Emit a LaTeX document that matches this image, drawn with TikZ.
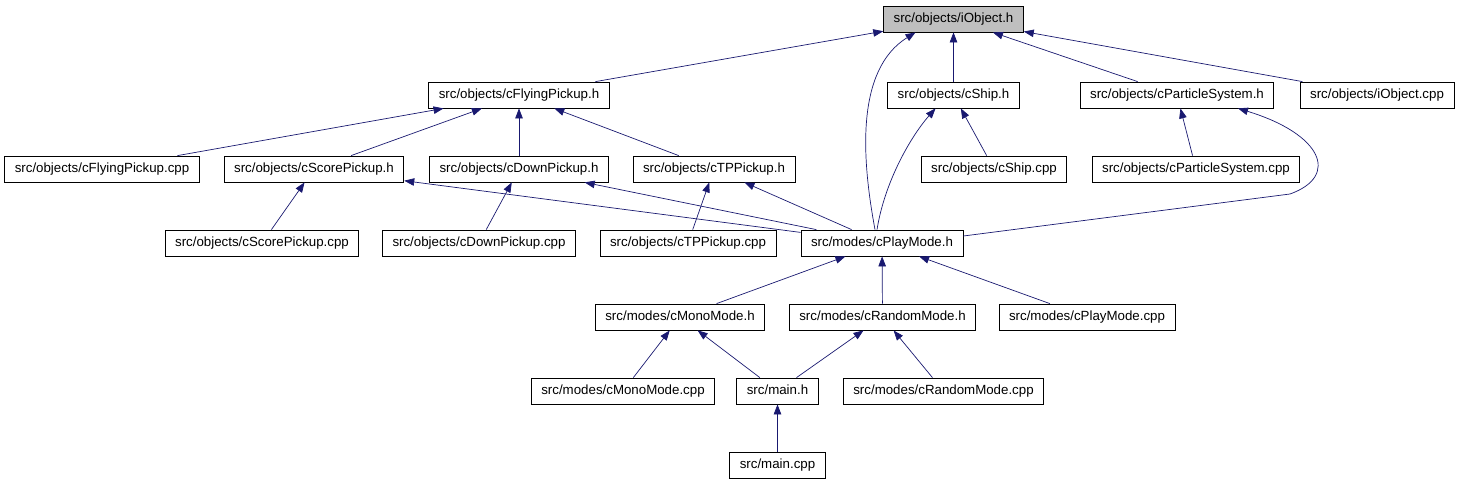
\documentclass[tikz,border=0pt]{standalone}
\usepackage{fontspec}
\setmainfont{Liberation Sans}
\usetikzlibrary{arrows.meta}
\definecolor{edgeblue}{RGB}{25,25,112}

\begin{document}
\begin{tikzpicture}[
  x=1pt, y=-1pt,
  file/.style={draw, line width=0.8pt, inner xsep=10pt, inner ysep=0pt,
               minimum height=26pt, text height=10pt, text depth=3pt,
               font=\fontsize{13.3}{16}\selectfont},
  top/.style={file, fill=gray!50},
  dep/.style={-{Triangle[length=10pt,width=7.5pt]}, edgeblue, line width=0.7pt}
]
\useasboundingbox (0,0) rectangle (1459,485);

% row 0 and 1
\node[top]  (io)    at (953.5,19) {src/objects/iObject.h};
\node[file] (fp)    at (519,95)   {src/objects/cFlyingPickup.h};
\node[file] (ship)  at (953.5,95) {src/objects/cShip.h};
\node[file] (ps)    at (1177,95)  {src/objects/cParticleSystem.h};
\node[file] (iocpp) at (1377,95)  {src/objects/iObject.cpp};

% row 2
\node[file] (fpcpp)   at (102,169)  {src/objects/cFlyingPickup.cpp};
\node[file] (sp)      at (314,169)  {src/objects/cScorePickup.h};
\node[file] (dp)      at (519,169)  {src/objects/cDownPickup.h};
\node[file] (tp)      at (714,169)  {src/objects/cTPPickup.h};
\node[file] (shipcpp) at (994,169)  {src/objects/cShip.cpp};
\node[file] (pscpp)   at (1196,169) {src/objects/cParticleSystem.cpp};

% row 3
\node[file] (spcpp) at (262,243) {src/objects/cScorePickup.cpp};
\node[file] (dpcpp) at (479,243) {src/objects/cDownPickup.cpp};
\node[file] (tpcpp) at (688,243) {src/objects/cTPPickup.cpp};
\node[file] (pm)    at (882,243) {src/modes/cPlayMode.h};

% rows 4 to 6
\node[file] (mono)    at (680,317)   {src/modes/cMonoMode.h};
\node[file] (rnd)     at (882.5,317) {src/modes/cRandomMode.h};
\node[file] (pmcpp)   at (1087,317)  {src/modes/cPlayMode.cpp};
\node[file] (monocpp) at (623,391)   {src/modes/cMonoMode.cpp};
\node[file] (mainh)   at (777.5,391) {src/main.h};
\node[file] (rndcpp)  at (943.5,391) {src/modes/cRandomMode.cpp};
\node[file] (maincpp) at (777.5,465) {src/main.cpp};

\draw[dep] (fp) -- (io); \draw[dep] (ship) -- (io); \draw[dep] (ps) -- (io); \draw[dep] (iocpp) -- (io);
\draw[dep] ([xshift=-7]pm.north) .. controls (862,160) and (855,70) .. ([xshift=-38]io.south);
\draw[dep] (fpcpp) -- (fp); \draw[dep] (sp) -- (fp); \draw[dep] (dp) -- (fp); \draw[dep] (tp) -- (fp);
\draw[dep] (shipcpp) -- (ship);
\draw[dep] ([xshift=-5]pm.north) .. controls (885,180) and (912,135) .. ([xshift=-18]ship.south);
\draw[dep] (pscpp) -- (ps);
\draw[dep] ([yshift=7]pm.east) -- (1290,194) .. controls (1340,176) and (1322,134) .. ([xshift=61]ps.south);
\draw[dep] (spcpp) -- (sp); \draw[dep] (pm) -- (sp);
\draw[dep] (dpcpp) -- (dp); \draw[dep] (pm) -- (dp);
\draw[dep] (tpcpp) -- (tp); \draw[dep] (pm) -- (tp);
\draw[dep] (mono) -- (pm); \draw[dep] (rnd) -- (pm); \draw[dep] (pmcpp) -- (pm);
\draw[dep] (monocpp) -- (mono); \draw[dep] (mainh) -- (mono);
\draw[dep] (mainh) -- (rnd); \draw[dep] (rndcpp) -- (rnd);
\draw[dep] (maincpp) -- (mainh);
\end{tikzpicture}
\end{document}
